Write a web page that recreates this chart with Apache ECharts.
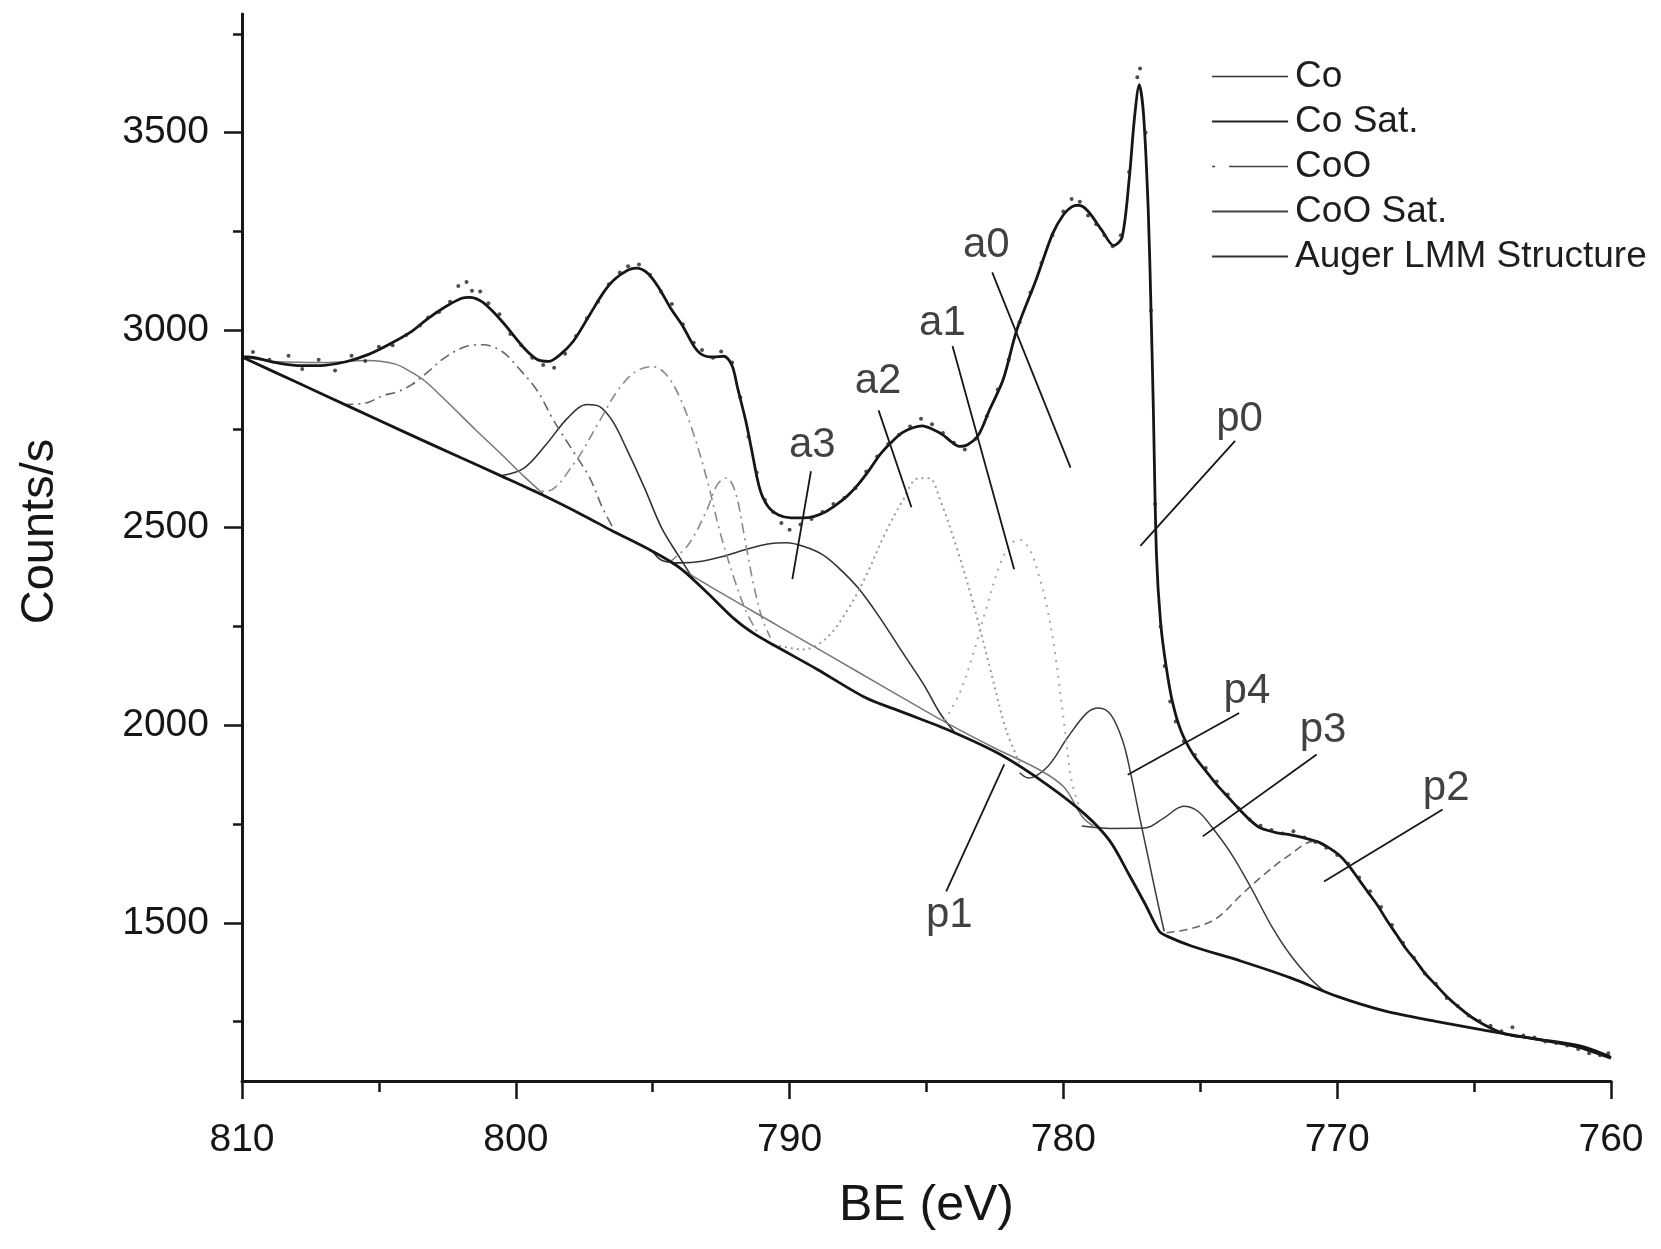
<!DOCTYPE html>
<html><head><meta charset="utf-8">
<script src="https://cdn.jsdelivr.net/npm/echarts@6/dist/echarts.min.js"></script>
<style>html,body{margin:0;padding:0;background:#fff}#c{width:1661px;height:1249px}</style>
</head><body><div id="c"></div>
<script>
// ---- axes ----
const xTickLabels = [810, 800, 790, 780, 770, 760];
const yTickLabels = [1500, 2000, 2500, 3000, 3500];
const yMinorTicks = [1250, 1750, 2250, 2750, 3250, 3750];

// ---- fitted envelope [BE, counts/s] ----
const envelope = [[810.0,2932],[809.8,2932],[808.7,2917],[807.8,2910],[807.0,2911],[806.2,2920],[805.4,2938],[804.6,2965],[803.8,2997],[803.2,3030],[802.6,3058],[802.0,3080],[801.7,3083],[801.2,3070],[800.5,3022],[799.7,2955],[799.2,2925],[798.8,2921],[798.4,2937],[797.9,2972],[797.3,3039],[796.8,3095],[796.4,3128],[795.9,3152],[795.6,3157],[795.2,3145],[794.8,3110],[794.35,3056],[793.9,3010],[793.5,2960],[793.2,2938],[792.8,2932],[792.4,2934],[792.1,2910],[791.9,2854],[791.6,2770],[791.4,2702],[791.1,2601],[790.8,2555],[790.4,2532],[789.95,2525],[789.5,2525],[789.1,2529],[788.7,2540],[788.3,2558],[787.9,2580],[787.5,2609],[787.1,2645],[786.7,2685],[786.3,2715],[785.9,2740],[785.5,2753],[785.15,2758],[784.8,2750],[784.4,2735],[784.1,2718],[783.8,2706],[783.5,2710],[783.1,2735],[782.7,2798],[782.2,2875],[781.7,3001],[781.0,3127],[780.4,3243],[780.0,3292],[779.7,3312],[779.45,3316],[779.1,3301],[778.6,3253],[778.16,3214],[777.86,3234],[777.6,3380],[777.4,3540],[777.23,3621],[777.07,3543],[776.9,3301],[776.8,3050],[776.72,2817],[776.6,2430],[776.45,2260],[776.25,2150],[776.02,2060],[775.7,1985],[775.26,1926],[774.8,1885],[774.4,1850],[773.9,1812],[773.5,1782],[773.1,1755],[772.8,1740],[772.2,1728],[771.7,1723],[771.2,1715],[770.7,1705],[770.3,1690],[769.95,1673],[769.6,1647],[769.25,1614],[768.9,1580],[768.54,1546],[768.2,1508],[767.83,1470],[767.5,1436],[767.12,1403],[766.8,1373],[766.41,1344],[766.0,1314],[765.53,1285],[765.1,1262],[764.65,1243],[764.2,1228],[763.76,1217],[763.3,1212],[762.88,1208],[762.0,1197],[761.1,1184],[760.5,1170],[760.0,1158]];

// ---- background ----
const background = [[810,2932],[808,2868],[806,2804],[804,2740],[802,2677],[800.5,2630],[799,2582],[797.5,2530],[796.5,2493],[795,2440],[794,2398],[793,2335],[792,2268],[791.3,2232],[790.5,2200],[789,2142],[787.2,2069],[785.9,2034],[784.1,1985],[782.3,1926],[780.6,1850],[779.2,1774],[778.3,1707],[777.6,1622],[777.0,1546],[776.5,1479],[776.2,1466],[775.3,1441],[773.5,1403],[771.7,1361],[770,1314],[768.2,1276],[766.4,1251],[764.6,1228],[762.9,1208],[761.1,1188],[760,1160]];

// ---- measured points ----
const measured = [[809.6,2945],[809.0,2925],[808.3,2935],[807.8,2902],[807.2,2925],[806.6,2898],[806.0,2935],[805.5,2922],[805.0,2958],[804.5,2962],[804.0,2988],[803.5,3012],[803.2,3032],[802.8,3046],[802.4,3072],[802.1,3112],[801.8,3122],[801.6,3100],[801.3,3098],[801.0,3068],[800.6,3040],[800.2,2990],[799.8,2962],[799.4,2930],[799.0,2912],[798.6,2905],[798.2,2940],[797.8,2985],[797.4,3030],[797.0,3072],[796.6,3116],[796.2,3146],[795.9,3162],[795.5,3166],[795.1,3140],[794.7,3098],[794.3,3066],[793.9,3015],[793.5,2968],[793.2,2950],[792.8,2930],[792.5,2946],[792.1,2918],[791.8,2830],[791.5,2730],[791.2,2640],[790.9,2570],[790.6,2540],[790.3,2512],[790.0,2495],[789.6,2508],[789.2,2522],[788.8,2540],[788.4,2560],[788.0,2575],[787.6,2600],[787.2,2642],[786.8,2680],[786.4,2712],[786.0,2735],[785.6,2756],[785.2,2776],[784.8,2762],[784.4,2740],[784.0,2715],[783.6,2698],[783.2,2725],[782.8,2782],[782.4,2850],[782.0,2925],[781.6,3020],[781.2,3095],[780.8,3170],[780.4,3240],[780.0,3300],[779.7,3332],[779.4,3325],[779.1,3290],[778.8,3268],[778.5,3240],[778.2,3212],[777.9,3240],[777.6,3400],[777.3,3640],[777.2,3662],[777.0,3500],[776.8,3050],[776.65,2560],[776.45,2250],[776.3,2150],[776.1,2060],[775.9,2010],[775.6,1960],[775.2,1925],[774.8,1892],[774.4,1858],[774.0,1825],[773.6,1790],[773.2,1762],[772.8,1746],[772.4,1735],[772.0,1726],[771.6,1732],[771.2,1716],[770.8,1705],[770.4,1690],[770.0,1672],[769.6,1650],[769.2,1615],[768.8,1580],[768.4,1540],[768.0,1495],[767.6,1450],[767.2,1412],[766.8,1372],[766.4,1346],[766.0,1310],[765.6,1290],[765.2,1266],[764.8,1252],[764.4,1240],[764.0,1226],[763.6,1236],[763.2,1215],[762.8,1210],[762.4,1200],[762.0,1196],[761.6,1190],[761.2,1181],[760.8,1170],[760.4,1165],[760.1,1170]];

// ---- fitted components ----
const coSat805 = [[809.8,2931],[808.7,2920],[807.0,2918],[805.4,2923],[804.4,2914],[803.8,2893],[803.3,2870],[802.5,2818],[801.5,2750],[800.5,2684],[799.7,2630],[799.0,2586]];
const coO801 = [[806.3,2812],[805.5,2815],[804.9,2833],[804.3,2845],[803.8,2862],[803.2,2895],[802.6,2930],[801.8,2959],[801.2,2963],[800.5,2946],[799.9,2904],[799.2,2845],[798.6,2769],[797.9,2693],[797.3,2626],[796.8,2545],[796.4,2494]];
const coSat797 = [[800.5,2632],[799.7,2651],[798.9,2710],[798.1,2778],[797.4,2812],[796.95,2807],[796.46,2769],[795.97,2702],[795.3,2601],[794.67,2499],[794.0,2423],[793.5,2368]];
const coO795 = [[799.6,2598],[798.9,2592],[797.9,2660],[796.95,2769],[796.3,2845],[795.65,2894],[795.0,2908],[794.5,2887],[794.0,2828],[793.5,2736],[793.0,2618],[792.55,2491],[792.07,2381],[791.6,2290],[791.2,2238]];
const coO792 = [[794.4,2412],[793.7,2457],[793.04,2542],[792.64,2609],[792.31,2626],[791.99,2592],[791.66,2482],[791.34,2364],[791.01,2272],[790.7,2222]];
const coSatA3 = [[795.0,2440],[794.67,2418],[794.0,2411],[793.2,2415],[792.4,2428],[791.6,2445],[790.8,2459],[790.1,2462],[789.5,2453],[788.8,2432],[788.2,2398],[787.5,2348],[786.7,2272],[785.9,2187],[785.1,2103],[784.5,2030],[784.0,1985]];
const augerA2 = [[790.6,2205],[790.0,2196],[789.5,2192],[788.65,2221],[787.84,2297],[787.19,2381],[786.53,2483],[785.88,2567],[785.3,2625],[784.9,2625],[784.5,2570],[783.9,2450],[783.3,2310],[782.7,2150],[782.1,1990],[781.6,1905]];
const augerA1 = [[784.5,1995],[783.8,2080],[783.3,2180],[782.8,2300],[782.3,2410],[781.9,2460],[781.6,2470],[781.2,2440],[780.9,2380],[780.6,2300],[780.3,2180],[780.0,2020],[779.7,1860],[779.4,1790]];
const coOSatP1 = [[794.3,2410],[792.5,2335],[790.5,2255],[788.5,2175],[786.5,2095],[784.5,2015],[782.5,1942],[781.0,1892],[780.0,1845],[779.3,1768],[778.9,1745]];
const coP4 = [[781.6,1880],[781.28,1867],[780.57,1896],[779.86,1968],[779.15,2031],[778.71,2044],[778.27,2027],[777.83,1960],[777.56,1884],[777.21,1766],[776.85,1648],[776.59,1563],[776.32,1479]];
const coP3 = [[779.33,1745],[778.27,1739],[777.03,1740],[776.32,1766],[775.61,1795],[775.08,1782],[774.55,1740],[773.85,1673],[773.14,1588],[772.43,1496],[771.72,1420],[771.01,1361],[770.48,1327]];
const augerP2 = [[776.23,1475],[775.26,1487],[774.38,1513],[773.49,1572],[772.61,1626],[771.72,1673],[770.84,1707],[770.4,1692]];

// ---- annotations ----
const annoNames = ['a0','a1','a2','a3','p0','p1','p2','p3','p4'];
const annoText = [[782.8,3214],[784.4,3015],[786.75,2870],[789.15,2707],[773.55,2773],[784.15,1518],[766.0,1840],[770.5,1985],[773.28,2085]];
const leaderFrom = [[782.6,3146],[784.05,2960],[786.75,2797],[789.22,2643],[773.73,2720],[784.28,1580],[766.15,1787],[770.75,1926],[773.58,2031]];
const leaderTo = [[779.74,2652],[781.8,2395],[785.55,2552],[789.9,2370],[777.19,2454],[782.16,1901],[770.48,1605],[774.91,1719],[777.65,1875]];

const FONT = '"Liberation Sans", Arial, sans-serif';
const DARK = '#161616';

function comp(name, data, color, width, type) {
  return { name, type: 'line', data, showSymbol: false, symbol: 'none', smooth: 0.35,
    lineStyle: { color, width, type }, itemStyle: { color }, z: 3, silent: true };
}

const chart = echarts.init(document.getElementById('c'), null, { renderer: 'canvas' });
chart.setOption({
  backgroundColor: '#fff',
  animation: false,
  textStyle: { fontFamily: FONT },
  grid: { left: 242, right: 50, top: 14, bottom: 168, containLabel: false },
  legend: {
    orient: 'vertical', left: 1206, top: 53,
    itemWidth: 76, itemHeight: 14, itemGap: 8,
    itemStyle: { color: 'rgba(0,0,0,0)', borderWidth: 0, opacity: 0 },
    textStyle: { fontSize: 37, color: '#1e1e1e', fontFamily: FONT, lineHeight: 37, padding: [0, 0, 0, 2] },
    data: [
      { name: 'Co', lineStyle: { color: '#333', width: 1.6, type: 'solid' } },
      { name: 'Co Sat.', lineStyle: { color: '#222', width: 2.2, type: 'solid' } },
      { name: 'CoO', lineStyle: { color: '#444', width: 1.6, type: [3, 14, 70, 0] } },
      { name: 'CoO Sat.', lineStyle: { color: '#444', width: 1.8, type: 'solid' } },
      { name: 'Auger LMM Structure', lineStyle: { color: '#333', width: 1.8, type: 'solid' } }
    ]
  },
  xAxis: {
    type: 'value', min: 760, max: 810, interval: 10, inverse: true,
    name: 'BE (eV)', nameLocation: 'middle', nameGap: 100,
    nameTextStyle: { fontSize: 50, color: DARK, fontFamily: FONT },
    axisLine: { show: true, onZero: false, lineStyle: { color: DARK, width: 3 } },
    axisTick: { show: true, length: 18, lineStyle: { color: DARK, width: 2.5 } },
    minorTick: { show: true, splitNumber: 2, length: 11, lineStyle: { color: DARK, width: 2.5 } },
    axisLabel: { fontSize: 39, color: DARK, margin: 40, fontFamily: FONT,
      formatter: v => xTickLabels.includes(v) ? String(v) : '' },
    splitLine: { show: false }
  },
  yAxis: [{
    type: 'value', min: 1100, max: 3800, position: 'left',
    name: 'Counts/s', nameLocation: 'middle', nameGap: 178, nameRotate: 90,
    nameTextStyle: { fontSize: 47, color: DARK, fontFamily: FONT, padding: [0, 0, 0, 32] },
    axisLine: { show: true, onZero: false, lineStyle: { color: DARK, width: 3 } },
    axisTick: { show: true, length: 18, customValues: yTickLabels, lineStyle: { color: DARK, width: 2.5 } },
    axisLabel: { show: true, fontSize: 39, color: DARK, margin: 33, fontFamily: FONT,
      customValues: yTickLabels, formatter: v => String(v) },
    splitLine: { show: false }
  }, {
    type: 'value', min: 1100, max: 3800, position: 'left',
    axisLine: { show: false },
    axisTick: { show: true, length: 9, customValues: yMinorTicks, lineStyle: { color: DARK, width: 2.5 } },
    axisLabel: { show: false },
    splitLine: { show: false }
  }],
  series: [
    comp('Co', coP4, '#3a3a3a', 1.5, 'solid'),
    comp('Co', coP3, '#3a3a3a', 1.5, 'solid'),
    comp('Co Sat.', coSat797, '#333', 1.6, 'solid'),
    comp('Co Sat.', coSatA3, '#333', 1.6, 'solid'),
    comp('CoO', coO801, '#666', 1.6, [10, 5, 2, 5]),
    comp('CoO', coO795, '#8a8a8a', 1.6, [10, 5, 2, 5]),
    comp('CoO', coO792, '#8a8a8a', 1.6, [10, 5, 2, 5]),
    comp('CoO Sat.', coSat805, '#777', 1.5, 'solid'),
    comp('CoO Sat.', coOSatP1, '#777', 1.5, 'solid'),
    comp('Auger LMM Structure', augerA2, '#9a9a9a', 2, [2, 4]),
    comp('Auger LMM Structure', augerA1, '#a8a8a8', 2, [2, 6]),
    comp('Auger LMM Structure', augerP2, '#666', 1.6, [8, 5]),
    { name: 'Background', type: 'line', data: background, showSymbol: false, symbol: 'none', smooth: 0.3,
      lineStyle: { color: DARK, width: 2.8 }, z: 4, silent: true },
    { name: 'Envelope', type: 'line', data: envelope, showSymbol: false, symbol: 'none', smooth: 0.3,
      lineStyle: { color: DARK, width: 2.8 }, z: 5, silent: true },
    { name: 'Measured', type: 'scatter', data: measured, symbol: 'circle', symbolSize: 4,
      itemStyle: { color: '#222' }, z: 6, silent: true },
    { name: 'Labels', type: 'scatter', symbolSize: 1, silent: true, z: 7,
      itemStyle: { color: 'rgba(0,0,0,0)' },
      data: annoText.map((p, i) => ({ value: p, name: annoNames[i] })),
      label: { show: true, position: [0, 0], align: 'center', verticalAlign: 'middle',
        formatter: p => p.name, fontSize: 42, color: '#111', fontFamily: FONT },
      markLine: { silent: true, symbol: ['none', 'none'], animation: false,
        lineStyle: { color: DARK, width: 1.8, type: 'solid' }, label: { show: false },
        emphasis: { disabled: true },
        data: leaderFrom.map((f, i) => [{ coord: f }, { coord: leaderTo[i] }]) } }
  ]
});
</script></body></html>
